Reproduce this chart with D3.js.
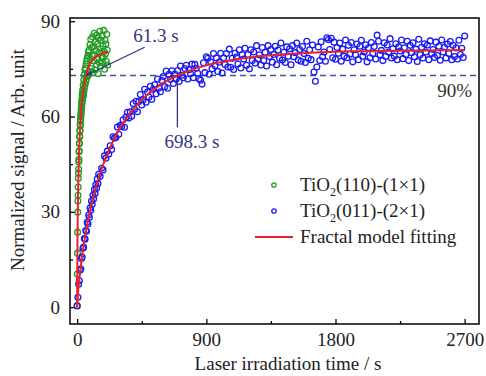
<!DOCTYPE html>
<html>
<head>
<meta charset="utf-8">
<script src="https://cdn.jsdelivr.net/npm/d3@7"></script>
<style>
  body { margin: 0; background: #fff; }
  text { font-family: "Liberation Serif", "Times New Roman", serif; }
</style>
</head>
<body>
<div id="main"></div>
<script>
// TiO2(110)-(1x1): [time s, signal]
var green110 = [
  [0,0.5],[1,10.4],[2,17.0],[3,23.6],[4,29.9],[5,33.4],[6,35.2],[7,37.8],[8,40.6],[9,42.2],[10,43.5],
  [11,45.8],[12,46.5],[13,48.9],[14,49.2],[15,51.5],[16,51.6],[17,53.8],[18,53.6],[19,55.7],[20,55.4],
  [21,57.5],[22,57.1],[23,59.2],[24,58.5],[25,60.6],[26,59.9],[27,61.9],[28,61.0],[29,63.2],[30,62.1],
  [31,64.5],[32,63.0],[33,65.6],[34,64.1],[35,66.8],[36,64.9],[37,67.5],[38,65.5],[39,68.4],[40,66.3],
  [42,69.9],[44,66.7],[46,71.5],[48,68.1],[50,73.2],[52,69.3],[54,74.6],[56,70.2],[58,75.3],[60,71.0],
  [62,76.4],[64,71.8],[66,77.5],[68,72.6],[70,78.2],[72,73.1],[74,79.0],[76,72.8],[78,80.3],[80,74.0],
  [83,80.9],[86,74.2],[89,82.6],[92,78.1],[95,84.3],[98,75.0],[101,81.7],[104,79.2],[107,85.1],[110,73.8],
  [113,82.0],[116,77.5],[119,86.2],[122,79.4],[125,74.6],[128,83.5],[131,80.7],[134,76.3],[137,85.6],[140,78.2],
  [143,82.9],[146,73.5],[149,84.7],[152,80.1],[155,77.0],[158,86.8],[161,81.3],[164,75.8],[167,83.9],[170,79.0],
  [173,85.4],[176,76.9],[179,82.2],[182,78.6],[185,87.1],[188,80.5],[191,74.9],[194,84.0],[197,79.7],[200,82.8],
  [203,77.4],[206,85.9],[209,80.9],[212,76.2]
]

// TiO2(011)-(2x1): [time s, signal]
var blue011 = [
  [0,0.4],[5,3.1],[10,7.2],[15,8.3],[20,11.6],[25,12.1],[30,15.3],[35,15.8],[40,18.5],[45,18.9],
  [50,21.6],[55,21.4],[60,24.1],[65,23.9],[70,26.7],[75,26.2],[80,29.0],[85,28.3],[90,31.2],[95,30.5],
  [100,33.4],[105,32.4],[110,35.2],[115,34.1],[120,37.0],[125,35.8],[130,38.6],[135,37.4],[140,40.3],[145,38.9],
  [150,41.8],[160,41.2],[170,43.7],[180,43.2],[190,47.6],[200,46.9],[210,49.1],[220,48.2],[230,50.8],[240,49.6],
  [250,53.6],[260,53.2],[270,53.4],[280,56.7],[290,54.4],[300,57.2],[310,56.8],[320,59.0],[330,56.6],[340,59.8],
  [350,61.3],[360,59.5],[370,61.5],[380,60.1],[390,64.1],[400,62.3],[410,64.8],[420,61.5],[430,64.7],[440,66.9],
  [450,63.6],[460,65.3],[470,68.6],[480,64.5],[490,67.7],[500,66.1],[510,69.5],[520,65.4],[530,68.6],[540,70.0],
  [550,67.2],[560,71.8],[570,69.0],[580,67.8],[590,71.3],[600,72.6],[610,69.4],[620,74.3],[630,68.9],[640,73.3],
  [650,71.7],[660,74.4],[670,70.4],[680,73.4],[690,71.8],[700,74.5],[710,71.0],[720,75.9],[730,73.0],[740,72.2],
  [750,75.1],[760,76.1],[770,71.8],[780,74.7],[790,73.5],[800,76.5],[810,72.2],[820,76.4],[830,75.2],[840,73.6],
  [850,71.9],[860,71.4],[870,70.2],[880,76.9],[890,73.8],[900,78.8],[910,78.3],[920,73.3],[930,77.2],[940,75.0],
  [950,79.8],[960,76.0],[970,78.4],[980,74.2],[990,77.1],[1000,79.9],[1010,73.7],[1020,78.5],[1030,76.4],[1040,79.8],
  [1050,75.6],[1060,81.2],[1070,75.5],[1080,78.3],[1090,74.8],[1100,79.9],[1110,78.7],[1120,76.5],[1130,81.0],[1140,75.3],
  [1150,79.4],[1160,78.1],[1170,81.5],[1180,76.1],[1190,79.5],[1200,75.0],[1210,81.0],[1220,77.6],[1230,80.3],[1240,76.8],
  [1250,82.3],[1260,78.1],[1270,79.4],[1280,76.2],[1290,81.7],[1300,77.6],[1310,80.2],[1320,75.9],[1330,82.3],[1340,78.9],
  [1350,81.1],[1360,77.1],[1370,79.5],[1380,82.1],[1390,76.3],[1400,80.9],[1410,78.3],[1420,83.1],[1430,77.8],[1440,80.2],
  [1450,77.0],[1460,81.9],[1470,79.0],[1480,81.3],[1490,76.3],[1500,82.3],[1510,78.8],[1520,80.1],[1530,83.1],[1540,77.8],
  [1550,81.1],[1560,77.4],[1570,82.0],[1580,79.8],[1590,77.0],[1600,83.7],[1610,78.3],[1620,81.0],[1630,77.9],[1640,82.5],
  [1650,74.0],[1660,71.1],[1670,75.6],[1680,81.9],[1690,77.6],[1700,83.5],[1710,78.8],[1720,80.3],[1730,77.4],[1740,84.8],
  [1750,84.2],[1760,81.1],[1770,84.6],[1780,78.5],[1790,83.4],[1800,78.0],[1810,81.7],[1820,79.9],[1830,83.1],[1840,77.4],
  [1850,81.2],[1860,79.0],[1870,84.1],[1880,78.5],[1890,82.4],[1900,79.6],[1910,83.3],[1920,77.2],[1930,81.0],[1940,79.4],
  [1950,82.8],[1960,77.9],[1970,82.1],[1980,84.0],[1990,79.0],[2000,80.3],[2010,82.6],[2020,77.2],[2030,81.6],[2040,78.5],
  [2050,83.3],[2060,79.8],[2070,82.0],[2080,78.1],[2090,85.6],[2100,83.7],[2110,79.4],[2120,80.8],[2130,77.6],[2140,83.2],
  [2150,78.9],[2160,82.5],[2170,80.3],[2180,84.5],[2190,78.4],[2200,81.3],[2210,79.0],[2220,82.9],[2230,77.9],[2240,81.9],
  [2250,80.6],[2260,84.1],[2270,78.2],[2280,81.6],[2290,79.5],[2300,83.7],[2310,77.6],[2320,82.4],[2330,80.1],[2340,83.2],
  [2350,78.8],[2360,81.2],[2370,77.3],[2380,84.3],[2390,79.4],[2400,81.8],[2410,78.4],[2420,82.9],[2430,80.3],[2440,82.5],
  [2450,77.9],[2460,83.8],[2470,79.8],[2480,81.1],[2490,78.6],[2500,83.4],[2510,79.2],[2520,82.1],[2530,77.7],[2540,84.1],
  [2550,80.3],[2560,81.8],[2570,78.4],[2580,82.8],[2590,79.8],[2600,83.6],[2610,77.9],[2620,82.4],[2630,78.9],[2640,81.6],
  [2650,78.1],[2660,84.0],[2670,79.5],[2680,81.5],[2690,78.6],[2700,85.3]
]

// fractal model fitting curves
var greenFit = [[0,0],[0.5,9.8],[1,14.3],[2,20.7],[3,25.4],[5,32.4],[7,37.7],[10,43.7],[15,50.9],[20,56.0],
  [30,62.9],[40,67.3],[50,70.4],[61.3,72.9],[75,75.0],[90,76.5],[110,77.9],[130,78.8],[160,79.6],[190,80.1],[215,80.4]]
var blueFit = [[0,0],[5,3.9],[10,6.6],[15,8.9],[20,10.9],[30,14.6],[45,19.4],[60,23.4],[90,30.3],[120,35.9],
  [150,40.6],[180,44.7],[240,51.3],[300,56.5],[360,60.5],[420,63.8],[480,66.5],[540,68.7],[600,70.6],[698.3,72.9],
  [780,74.4],[900,76.1],[1000,77.1],[1100,77.95],[1200,78.6],[1350,79.3],[1500,79.75],[1700,80.2],[1900,80.5],
  [2100,80.6],[2400,80.8],[2700,80.9]]

var level90 = 72.9
var t90Green = 61.3
var t90Blue = 698.3

var xMajor = [0, 900, 1800, 2700]
var xMinor = [450, 1350, 2250]
var yMajor = [0, 30, 60, 90]
var yMinor = [15, 45, 75]

var legendItems = ['TiO|2|(110)-(1×1)', 'TiO|2|(011)-(2×1)', 'Fractal model fitting']

var greenColor = '#239a23'
var blueColor = '#1a1af0'
var redColor = '#e8222c'
var noteColor = '#34347e'

var W = 486, H = 376
var plotLeft = 70, plotRight = 479, plotTop = 18, plotBottom = 324

var svg = d3.select('#main')
  .append('svg')
  .attr('width', W)
  .attr('height', H)

var x = d3.scaleLinear().domain([-50, 2800]).range([plotLeft, plotRight])
var y = d3.scaleLinear().domain([-5.3, 91]).range([plotBottom, plotTop])

// axes, ticks inward
svg.append('g')
  .attr('transform', `translate(0, ${plotBottom})`)
  .call(d3.axisBottom(x).tickValues(xMajor).tickSize(-5).tickPadding(9).tickFormat(d3.format('d')))
svg.append('g')
  .attr('transform', `translate(0, ${plotBottom})`)
  .call(d3.axisBottom(x).tickValues(xMinor).tickSize(-3).tickFormat(''))
svg.append('g')
  .attr('transform', `translate(${plotLeft}, 0)`)
  .call(d3.axisLeft(y).tickValues(yMajor).tickSize(-5).tickPadding(10))
svg.append('g')
  .attr('transform', `translate(${plotLeft}, 0)`)
  .call(d3.axisLeft(y).tickValues(yMinor).tickSize(-3).tickFormat(''))

svg.selectAll('.domain').remove()
svg.selectAll('.tick line').attr('stroke', '#000').attr('stroke-width', 1.3)
svg.selectAll('.tick text')
  .attr('font-family', '"Liberation Serif", serif')
  .attr('font-size', 19)
  .attr('fill', '#222')

// 90% dashed level
svg.append('line')
  .attr('x1', plotLeft).attr('x2', plotRight)
  .attr('y1', y(level90)).attr('y2', y(level90))
  .attr('stroke', '#4c4c98')
  .attr('stroke-width', 1.3)
  .attr('stroke-dasharray', '6,4')

// data points
svg.append('g').selectAll('circle')
  .data(green110)
  .enter()
  .append('circle')
    .attr('cx', d => x(d[0]))
    .attr('cy', d => y(d[1]))
    .attr('r', 2.9)
    .attr('fill', 'none')
    .attr('stroke', greenColor)
    .attr('stroke-width', 1.3)

svg.append('g').selectAll('circle')
  .data(blue011)
  .enter()
  .append('circle')
    .attr('cx', d => x(d[0]))
    .attr('cy', d => y(d[1]))
    .attr('r', 2.9)
    .attr('fill', 'none')
    .attr('stroke', blueColor)
    .attr('stroke-width', 1.3)

// fit lines
var line = d3.line()
  .x(d => x(d[0]))
  .y(d => y(d[1]))
  .curve(d3.curveMonotoneX)

;[greenFit, blueFit].forEach(function (f) {
  svg.append('path')
    .attr('d', line(f))
    .attr('fill', 'none')
    .attr('stroke', redColor)
    .attr('stroke-width', 2)
})

// frame
svg.append('rect')
  .attr('x', plotLeft).attr('y', plotTop)
  .attr('width', plotRight - plotLeft).attr('height', plotBottom - plotTop)
  .attr('fill', 'none')
  .attr('stroke', '#000')
  .attr('stroke-width', 1.5)

// annotations
svg.append('defs').append('marker')
  .attr('id', 'arr')
  .attr('viewBox', '0 0 10 10')
  .attr('refX', 9).attr('refY', 5)
  .attr('markerWidth', 5).attr('markerHeight', 5)
  .attr('orient', 'auto')
  .append('path')
    .attr('d', 'M0,1 L10,5 L0,9 z')
    .attr('fill', noteColor)

svg.append('line')
  .attr('x1', x(470)).attr('y1', y(81.8))
  .attr('x2', x(t90Green)).attr('y2', y(level90))
  .attr('stroke', noteColor)
  .attr('stroke-width', 1.3)
  .attr('marker-end', 'url(#arr)')

svg.append('text')
  .attr('x', x(390)).attr('y', y(83.4))
  .attr('font-size', 19)
  .attr('fill', noteColor)
  .text(t90Green + ' s')

svg.append('line')
  .attr('x1', x(t90Blue)).attr('y1', y(level90))
  .attr('x2', x(t90Blue)).attr('y2', y(56.6))
  .attr('stroke', noteColor)
  .attr('stroke-width', 1.3)

svg.append('text')
  .attr('x', x(t90Blue) - 13).attr('y', y(50.2))
  .attr('font-size', 19)
  .attr('fill', noteColor)
  .text(t90Blue + ' s')

svg.append('text')
  .attr('x', plotRight - 7).attr('y', y(66))
  .attr('text-anchor', 'end')
  .attr('font-size', 19)
  .attr('fill', '#333')
  .text('90%')

// legend
var rows = svg.append('g').selectAll('g')
  .data(legendItems)
  .enter()
  .append('g')
    .attr('transform', (_, i) => `translate(0, ${191 + i * 26})`)

rows.each(function (d, i) {
  var g = d3.select(this)
  if (i < 2) {
    g.append('circle')
      .attr('cx', 274).attr('cy', -6)
      .attr('r', 2.2)
      .attr('fill', 'none')
      .attr('stroke', i ? blueColor : greenColor)
      .attr('stroke-width', 1.3)
  } else {
    g.append('line')
      .attr('x1', 255).attr('x2', 293)
      .attr('y1', -6).attr('y2', -6)
      .attr('stroke', redColor)
      .attr('stroke-width', 2)
  }
  var t = g.append('text')
    .attr('x', 300).attr('y', 0)
    .attr('font-size', 19)
    .attr('fill', '#222')
  d.split('|').forEach(function (p, k) {
    var s = t.append('tspan').text(p)
    if (k === 1) s.attr('font-size', 12).attr('dy', 5)
    if (k === 2) s.attr('dy', -5)
  })
})

// axis titles
svg.append('text')
  .attr('x', 288).attr('y', 370)
  .attr('text-anchor', 'middle')
  .attr('font-size', 19)
  .attr('fill', '#222')
  .text('Laser irradiation time / s')

svg.append('text')
  .attr('transform', 'translate(24, 160) rotate(-90)')
  .attr('text-anchor', 'middle')
  .attr('font-size', 19)
  .attr('fill', '#222')
  .text('Normalized signal / Arb. unit')
</script>
</body>
</html>
